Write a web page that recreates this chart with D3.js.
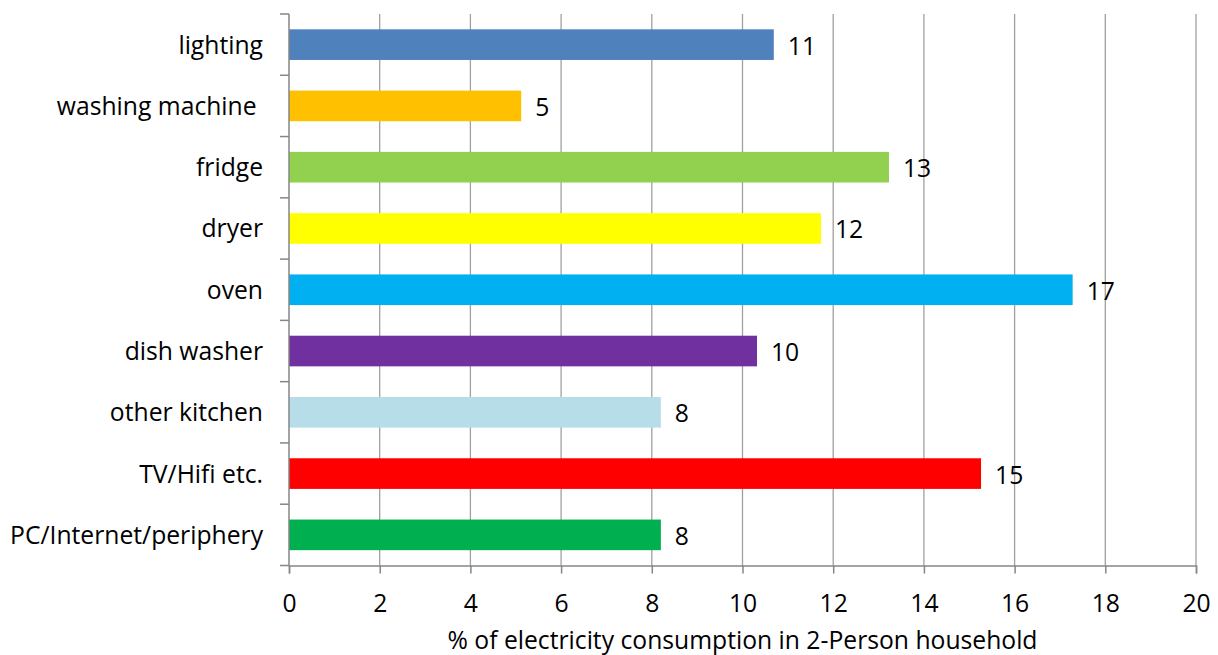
<!DOCTYPE html>
<html>
<head>
<meta charset="utf-8">
<script src="https://cdn.jsdelivr.net/npm/d3@7"></script>
<style>
  html, body { margin: 0; padding: 0; background: #fff; }
  svg { display: block; font-family: "Open Sans", sans-serif; }
</style>
</head>
<body>
<svg id="chart" width="1218" height="655"></svg>
<script>
const categories = ["lighting", "washing machine ", "fridge", "dryer", "oven", "dish washer", "other kitchen", "TV/Hifi etc.", "PC/Internet/periphery"];
const values = [10.69, 5.12, 13.23, 11.73, 17.28, 10.32, 8.2, 15.26, 8.2];
const labels = ["11", "5", "13", "12", "17", "10", "8", "15", "8"];
const colors = ["#4F81BD", "#FFC000", "#92D050", "#FFFF00", "#00B0F0", "#7030A0", "#B7DEE8", "#FF0000", "#00B050"];
const xTicks = [0, 2, 4, 6, 8, 10, 12, 14, 16, 18, 20];
const xTitle = "% of electricity consumption in 2-Person household";

(function () {
const svg = d3.select("#chart");
const pLeft = 289, pRight = 1196, pTop = 14, pBottom = 565.5;
const fontSize = 24.7;

const x = d3.scaleLinear().domain([0, 20]).range([pLeft, pRight]);
const y = d3.scaleBand().domain(categories).range([pTop, pBottom]).paddingInner(0.5).paddingOuter(0.25);
const yOuter = d3.scaleBand().domain(categories).range([pTop, pBottom]);

// gridlines
svg.append("g").selectAll("line").data(xTicks.slice(1)).join("line")
  .attr("x1", d => x(d)).attr("x2", d => x(d))
  .attr("y1", pTop).attr("y2", pBottom)
  .attr("stroke", "#a0a0a0").attr("stroke-width", 1.3);

// bars
svg.append("g").selectAll("rect").data(categories).join("rect")
  .attr("x", x(0))
  .attr("y", d => y(d))
  .attr("height", y.bandwidth())
  .attr("width", (d, i) => x(values[i]) - x(0))
  .attr("fill", (d, i) => colors[i]);

// value labels
svg.append("g").selectAll("text").data(categories).join("text")
  .attr("x", (d, i) => x(values[i]) + 14)
  .attr("y", d => y(d) + y.bandwidth() / 2 + 10)
  .attr("font-size", fontSize)
  .attr("fill", "#000")
  .text((d, i) => labels[i]);

// y axis
const yAxisG = svg.append("g");
yAxisG.append("line").attr("x1", pLeft).attr("x2", pLeft).attr("y1", pTop).attr("y2", pBottom)
  .attr("stroke", "#868686").attr("stroke-width", 1.5);
const boundaries = categories.map(c => yOuter(c)).concat([pBottom]);
yAxisG.selectAll("line.tk").data(boundaries).join("line").attr("class", "tk")
  .attr("x1", pLeft - 9).attr("x2", pLeft).attr("y1", d => d).attr("y2", d => d)
  .attr("stroke", "#868686").attr("stroke-width", 1.5);
yAxisG.selectAll("text").data(categories).join("text")
  .attr("x", pLeft - 26)
  .attr("y", d => yOuter(d) + yOuter.bandwidth() / 2 + 9)
  .attr("text-anchor", "end")
  .attr("font-size", fontSize)
  .attr("fill", "#000")
  .style("white-space", "pre")
  .text(d => d);

// x axis
const xAxis = d3.axisBottom(x).tickValues(xTicks).tickSize(8).tickPadding(0).tickFormat(d3.format("d"));
const xg = svg.append("g").attr("transform", `translate(0,${pBottom})`).call(xAxis);
xg.select(".domain").attr("stroke", "#868686").attr("stroke-width", 1.5);
xg.selectAll(".tick line").attr("stroke", "#868686").attr("stroke-width", 1.5);
xg.selectAll(".tick text").attr("font-size", fontSize).attr("fill", "#000")
  .attr("font-family", "Open Sans, sans-serif")
  .attr("dy", null).attr("y", 46);

svg.append("text")
  .attr("x", (pLeft + pRight) / 2)
  .attr("y", 649)
  .attr("text-anchor", "middle")
  .attr("font-size", fontSize)
  .attr("fill", "#000")
  .text(xTitle);
})();
</script>
</body>
</html>
